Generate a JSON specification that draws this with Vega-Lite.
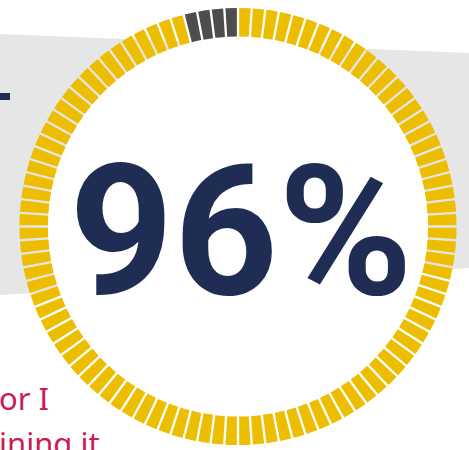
{
  "$schema": "https://vega.github.io/schema/vega-lite/v6.json",
  "width": 469,
  "height": 450,
  "padding": 0,
  "autosize": {"type": "none"},
  "background": "#ffffff",
  "config": {"view": {"stroke": null}},
  "datasets": {
    "segments": [
      {"i":1,"v":1,"s":"done"},{"i":2,"v":1,"s":"done"},{"i":3,"v":1,"s":"done"},{"i":4,"v":1,"s":"done"},{"i":5,"v":1,"s":"done"},
      {"i":6,"v":1,"s":"done"},{"i":7,"v":1,"s":"done"},{"i":8,"v":1,"s":"done"},{"i":9,"v":1,"s":"done"},{"i":10,"v":1,"s":"done"},
      {"i":11,"v":1,"s":"done"},{"i":12,"v":1,"s":"done"},{"i":13,"v":1,"s":"done"},{"i":14,"v":1,"s":"done"},{"i":15,"v":1,"s":"done"},
      {"i":16,"v":1,"s":"done"},{"i":17,"v":1,"s":"done"},{"i":18,"v":1,"s":"done"},{"i":19,"v":1,"s":"done"},{"i":20,"v":1,"s":"done"},
      {"i":21,"v":1,"s":"done"},{"i":22,"v":1,"s":"done"},{"i":23,"v":1,"s":"done"},{"i":24,"v":1,"s":"done"},{"i":25,"v":1,"s":"done"},
      {"i":26,"v":1,"s":"done"},{"i":27,"v":1,"s":"done"},{"i":28,"v":1,"s":"done"},{"i":29,"v":1,"s":"done"},{"i":30,"v":1,"s":"done"},
      {"i":31,"v":1,"s":"done"},{"i":32,"v":1,"s":"done"},{"i":33,"v":1,"s":"done"},{"i":34,"v":1,"s":"done"},{"i":35,"v":1,"s":"done"},
      {"i":36,"v":1,"s":"done"},{"i":37,"v":1,"s":"done"},{"i":38,"v":1,"s":"done"},{"i":39,"v":1,"s":"done"},{"i":40,"v":1,"s":"done"},
      {"i":41,"v":1,"s":"done"},{"i":42,"v":1,"s":"done"},{"i":43,"v":1,"s":"done"},{"i":44,"v":1,"s":"done"},{"i":45,"v":1,"s":"done"},
      {"i":46,"v":1,"s":"done"},{"i":47,"v":1,"s":"done"},{"i":48,"v":1,"s":"done"},{"i":49,"v":1,"s":"done"},{"i":50,"v":1,"s":"done"},
      {"i":51,"v":1,"s":"done"},{"i":52,"v":1,"s":"done"},{"i":53,"v":1,"s":"done"},{"i":54,"v":1,"s":"done"},{"i":55,"v":1,"s":"done"},
      {"i":56,"v":1,"s":"done"},{"i":57,"v":1,"s":"done"},{"i":58,"v":1,"s":"done"},{"i":59,"v":1,"s":"done"},{"i":60,"v":1,"s":"done"},
      {"i":61,"v":1,"s":"done"},{"i":62,"v":1,"s":"done"},{"i":63,"v":1,"s":"done"},{"i":64,"v":1,"s":"done"},{"i":65,"v":1,"s":"done"},
      {"i":66,"v":1,"s":"done"},{"i":67,"v":1,"s":"done"},{"i":68,"v":1,"s":"done"},{"i":69,"v":1,"s":"done"},{"i":70,"v":1,"s":"done"},
      {"i":71,"v":1,"s":"done"},{"i":72,"v":1,"s":"done"},{"i":73,"v":1,"s":"done"},{"i":74,"v":1,"s":"done"},{"i":75,"v":1,"s":"done"},
      {"i":76,"v":1,"s":"done"},{"i":77,"v":1,"s":"done"},{"i":78,"v":1,"s":"done"},{"i":79,"v":1,"s":"done"},{"i":80,"v":1,"s":"done"},
      {"i":81,"v":1,"s":"done"},{"i":82,"v":1,"s":"done"},{"i":83,"v":1,"s":"done"},{"i":84,"v":1,"s":"done"},{"i":85,"v":1,"s":"done"},
      {"i":86,"v":1,"s":"done"},{"i":87,"v":1,"s":"done"},{"i":88,"v":1,"s":"done"},{"i":89,"v":1,"s":"done"},{"i":90,"v":1,"s":"done"},
      {"i":91,"v":1,"s":"done"},{"i":92,"v":1,"s":"done"},{"i":93,"v":1,"s":"done"},{"i":94,"v":1,"s":"done"},{"i":95,"v":1,"s":"done"},
      {"i":96,"v":1,"s":"done"},{"i":97,"v":1,"s":"rest"},{"i":98,"v":1,"s":"rest"},{"i":99,"v":1,"s":"rest"},{"i":100,"v":1,"s":"rest"}
    ],
    "band": [
      {"x": 0, "top": 34, "bottom": 295},
      {"x": 469, "top": 53, "bottom": 268}
    ],
    "dash": [{"x": 0, "x2": 10, "y": 93, "y2": 100}],
    "notes": [
      {"x": -1, "y": 410, "t": "or I"},
      {"x": -1, "y": 455, "t": "ining it"}
    ],
    "center": [{"cx": 238, "cy": 226.5, "label": "96%"}]
  },
  "layer": [
    {
      "data": {"name": "band"},
      "mark": {"type": "area", "color": "#e6e6e6", "opacity": 1},
      "encoding": {
        "x": {"field": "x", "type": "quantitative", "scale": {"domain": [0, 469], "nice": false, "zero": false}, "axis": null},
        "y": {"field": "top", "type": "quantitative", "scale": {"domain": [0, 450], "nice": false, "zero": false, "reverse": true}, "axis": null},
        "y2": {"field": "bottom"}
      }
    },
    {
      "data": {"name": "dash"},
      "mark": {"type": "rect", "color": "#1f2d54"},
      "encoding": {
        "x": {"field": "x", "type": "quantitative"},
        "x2": {"field": "x2"},
        "y": {"field": "y", "type": "quantitative"},
        "y2": {"field": "y2"}
      }
    },
    {
      "data": {"name": "notes"},
      "mark": {"type": "text", "align": "left", "baseline": "alphabetic", "font": "Noto Sans", "fontSize": 31, "color": "#cc1a55"},
      "encoding": {
        "x": {"field": "x", "type": "quantitative"},
        "y": {"field": "y", "type": "quantitative"},
        "text": {"field": "t"}
      }
    },
    {
      "data": {"name": "center"},
      "mark": {"type": "point", "shape": "circle", "filled": true, "color": "#ffffff", "opacity": 1, "size": 145000},
      "encoding": {
        "x": {"field": "cx", "type": "quantitative"},
        "y": {"field": "cy", "type": "quantitative"}
      }
    },
    {
      "data": {"name": "segments"},
      "mark": {"type": "arc", "innerRadius": 190, "outerRadius": 218.5, "padAngle": 0.008},
      "encoding": {
        "x": {"datum": 238, "type": "quantitative"},
        "y": {"datum": 226.5, "type": "quantitative"},
        "theta": {"field": "v", "type": "quantitative", "stack": true},
        "order": {"field": "i", "type": "quantitative", "sort": "ascending"},
        "color": {"field": "s", "type": "nominal", "scale": {"domain": ["done", "rest"], "range": ["#edbd00", "#4d4d4d"]}, "legend": null}
      }
    },
    {
      "data": {"name": "center"},
      "mark": {"type": "text", "align": "center", "baseline": "alphabetic", "font": "Roboto", "fontWeight": "bold", "fontSize": 182, "color": "#1f2d54", "dx": 3, "dy": 67},
      "encoding": {
        "x": {"field": "cx", "type": "quantitative"},
        "y": {"field": "cy", "type": "quantitative"},
        "text": {"field": "label"}
      }
    }
  ]
}
